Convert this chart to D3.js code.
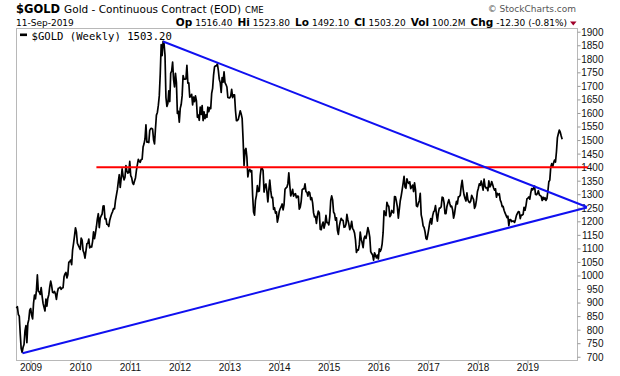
<!DOCTYPE html>
<html><head><meta charset="utf-8">
<script src="https://cdn.jsdelivr.net/npm/d3@7"></script>
<style>body{margin:0;background:#fff}svg{display:block}</style>
</head><body>
<svg id="chart" width="620" height="376"></svg>
<script>
// ---- DATA (weekly closes, first bar Friday 2008-09-19) ----
const firstWeek = "2008-09-19";
const closes2008 = [879,885,856,850,786,730,716,735,745,795,815,752,823,837,872];
const closes2009 = [878,853,840,898,928, 914,944,1002,942, 939,930,955,924, 897,883,869,913, 887,916,929,958,979, 962,938,936,941, 932,912,938,953,954, 957,949,954,955, 995,1006,1011,991, 1003,1049,1051,1057,1040, 1095,1119,1146,1176, 1161,1119,1111,1104];
const closes2010 = [1096,1138,1131,1092,1083, 1064,1090,1117,1119, 1134,1102,1107,1105, 1126,1161,1136,1156,1180, 1209,1228,1177,1212, 1220,1227,1256,1257, 1209,1210,1189,1188,1181, 1204,1217,1228,1236, 1247,1246,1276,1297, 1317,1347,1372,1325,1358, 1394,1367,1353,1363, 1406,1385,1378,1380,1421];
const closes2011 = [1369,1361,1342,1336, 1349,1360,1388,1409, 1429,1421,1418,1428, 1429,1474,1486,1504,1556, 1492,1493,1491,1536, 1542,1543,1540,1501, 1486,1542,1592,1602,1628, 1663,1743,1852,1812, 1864,1856,1814,1657,1624, 1635,1682,1642,1747, 1755,1788,1724,1696, 1746,1712,1598,1606,1566];
const closes2012 = [1617,1631,1664,1738, 1725,1725,1726,1776, 1710,1711,1658,1662,1669, 1630,1659,1642,1663, 1645,1584,1592,1573, 1622,1595,1627,1572,1604, 1579,1593,1584,1622, 1605,1620,1616,1672,1691, 1740,1770,1774,1774, 1781,1757,1724,1712, 1676,1731,1714,1752,1712, 1705,1696,1657,1656];
const closes2013 = [1656,1662,1687,1657, 1667,1667,1609,1572, 1572,1577,1592,1608,1596, 1580,1501,1406,1462, 1469,1436,1364,1386,1392, 1383,1387,1296,1234, 1223,1277,1296,1332, 1310,1312,1370,1396,1396, 1387,1308,1333,1338, 1310,1272,1315,1352, 1315,1287,1288,1244,1250, 1230,1235,1197,1214];
const closes2014 = [1237,1247,1254,1264,1242, 1262,1318,1323,1326, 1339,1379,1334,1294, 1303,1318,1293,1300, 1302,1287,1293,1292,1245, 1252,1274,1316,1320, 1320,1338,1310,1307, 1293,1309,1305,1280,1287, 1268,1231,1216,1218, 1192,1222,1238,1231,1171, 1169,1187,1197,1175, 1190,1222,1195,1195];
const closes2015 = [1187,1217,1277,1294,1279, 1234,1228,1204,1213, 1168,1152,1182,1199, 1211,1205,1203,1178, 1179,1189,1226,1205,1190, 1169,1180,1200,1173, 1168,1157,1131,1085,1095, 1094,1113,1160,1134, 1121,1103,1137,1145, 1137,1156,1177,1163,1142, 1088,1081,1076,1057, 1084,1075,1065,1075];
const closes2016 = [1061,1098,1089,1097,1117, 1158,1239,1227,1221, 1270,1259,1255,1217, 1222,1240,1235,1231,1291, 1290,1273,1252,1212, 1244,1276,1294,1316, 1340,1366,1327,1322,1357, 1344,1340,1346,1321, 1327,1334,1310,1342,1317, 1257,1254,1267,1276, 1303,1224,1208,1183, 1177,1162,1137,1133,1152];
const closes2017 = [1173,1197,1210,1190, 1220,1235,1239,1258, 1226,1201,1230,1249,1249, 1254,1289,1287,1268, 1228,1228,1255,1268, 1280,1266,1254,1256,1242, 1212,1228,1254,1274, 1264,1290,1291,1297, 1330,1351,1320,1297,1284, 1275,1305,1280,1272, 1269,1275,1296,1288, 1280,1248,1257,1278,1309];
const closes2018 = [1322,1338,1333,1349, 1333,1315,1356,1330, 1323,1324,1313,1349,1327, 1332,1347,1336,1323, 1315,1320,1289,1303, 1298,1302,1278,1270,1254, 1255,1241,1231,1223, 1214,1219,1184,1206,1206, 1199,1201,1201,1196, 1207,1222,1229,1236, 1234,1210,1223,1223,1226, 1252,1241,1258,1283];
const closes2019 = [1286,1290,1282,1305, 1321,1316,1323,1330, 1299,1298,1303,1313,1298, 1295,1292,1277,1289, 1281,1287,1277,1284,1311, 1346,1352,1400,1413, 1400,1416,1426,1419, 1457,1509,1523,1537,1529, 1515,1503.2];

const yTickValues = [700,750,800,850,900,950,1000,1050,1100,1150,1200,1250,1300,1350,1400,1450,1500,1550,1600,1650,1700,1750,1800,1850,1900];
const yearLabels = [2009,2010,2011,2012,2013,2014,2015,2016,2017,2018,2019];

const resistanceLine = [{date:"2010-04-30", value:1400},{date:"2020-03-20", value:1400}];
const upperTrend = [{date:"2011-09-02", value:1864},{date:"2020-03-13", value:1253}];
const lowerTrend = [{date:"2008-11-03", value:713},{date:"2020-03-13", value:1251}];

const headerTitle = "$GOLD";
const headerDesc = "Gold - Continuous Contract (EOD)";
const headerExch = "CME";
const headerDate = "11-Sep-2019";
const quote = [["Op","1516.40"],["Hi","1523.80"],["Lo","1492.10"],["Cl","1503.20"],["Vol","100.2M"],["Chg","-12.30 (-0.81%)"]];
const legendText = "$GOLD (Weekly) 1503.20";
const credit = "\u00A9 StockCharts.com";

// ---- BUILD ----
const parse = d3.utcParse("%Y-%m-%d");
const allCloses = [].concat(closes2008,closes2009,closes2010,closes2011,closes2012,closes2013,closes2014,closes2015,closes2016,closes2017,closes2018,closes2019);
const start = parse(firstWeek);
const series = allCloses.map((v,i)=>({date:d3.utcWeek.offset(start,i), value:v}));

const svg = d3.select("#chart");
const L=16, R=577, T=28, B=360;
const x = d3.scaleUtc().domain([parse("2008-09-16"), parse("2019-12-31")]).range([L,R]);
const y = d3.scaleLinear().domain([688,1913.7]).range([B,T]);

// frame
svg.append("rect").attr("x",L+0.5).attr("y",T+0.5).attr("width",R-L).attr("height",B-T)
  .attr("fill","none").attr("stroke","#b8b8b8").attr("stroke-width",1);

// y axis (right)
const ya = svg.append("g").attr("transform",`translate(${R+0.5},0)`)
  .call(d3.axisRight(y).tickValues(yTickValues).tickSize(3).tickFormat(d3.format("d")));
ya.select(".domain").remove();
ya.selectAll(".tick line").attr("stroke","#999");
ya.selectAll(".tick text").attr("x",26).attr("text-anchor","end").attr("dy","0.34em")
  .attr("font-family","Liberation Sans, Arial, sans-serif").attr("font-size",10).attr("fill","#111");

// x axis
const yearDates = yearLabels.map(yv=>parse(yv+"-01-01"));
const xa = svg.append("g").attr("transform",`translate(0,${B+0.5})`)
  .call(d3.axisBottom(x).tickValues(yearDates).tickSize(3).tickFormat(d3.utcFormat("%Y")));
xa.select(".domain").remove();
xa.selectAll(".tick line").attr("stroke","#999");
xa.selectAll(".tick text").attr("y",3).attr("dy","0.71em")
  .attr("font-family","Liberation Sans, Arial, sans-serif").attr("font-size",10).attr("fill","#111");

// price line
const line = d3.line().x(d=>x(d.date)).y(d=>y(d.value));
svg.append("path").datum(series).attr("d",line).attr("fill","none")
  .attr("stroke","#000").attr("stroke-width",1.7).attr("stroke-linejoin","round");

// annotation lines
const tl = d3.line().x(d=>x(parse(d.date))).y(d=>y(d.value));
svg.append("path").datum(resistanceLine).attr("d",tl).attr("stroke","#ff0000").attr("stroke-width",2).attr("fill","none");
svg.append("path").datum(upperTrend).attr("d",tl).attr("stroke","#1010f0").attr("stroke-width",2).attr("fill","none");
svg.append("path").datum(lowerTrend).attr("d",tl).attr("stroke","#1010f0").attr("stroke-width",2).attr("fill","none");

// header
const h1 = svg.append("text").attr("x",16).attr("y",13).attr("font-family","DejaVu Sans, Verdana, sans-serif").attr("fill","#000");
h1.append("tspan").attr("font-weight","bold").attr("font-size",11.5).text(headerTitle);
h1.append("tspan").attr("font-size",10.5).attr("dx",4).text(headerDesc);
h1.append("tspan").attr("font-size",8.5).attr("dx",4).text(headerExch);

svg.append("text").attr("x",16).attr("y",25.5).attr("font-family","DejaVu Sans, Verdana, sans-serif")
  .attr("font-size",9).attr("fill","#000").text(headerDate);

const q = svg.append("text").attr("x",567).attr("y",25.5).attr("text-anchor","end")
  .attr("font-family","DejaVu Sans, Verdana, sans-serif").attr("fill","#000");
quote.forEach((p,i)=>{
  q.append("tspan").attr("font-weight","bold").attr("font-size",10.5).attr("dx", i? 5:0).text(p[0]);
  q.append("tspan").attr("font-size",9).attr("dx",3).text(p[1]);
});
svg.append("path").attr("d","M570,21.5 L576.5,21.5 L573.25,25.5 Z").attr("fill","#a0002a");

svg.append("text").attr("x",576).attr("y",11.5).attr("text-anchor","end")
  .attr("font-family","DejaVu Sans, Verdana, sans-serif").attr("font-size",9).attr("fill","#555").text(credit);

// legend
svg.append("rect").attr("x",20).attr("y",33.5).attr("width",7).attr("height",2.6).attr("fill","#000");
svg.append("text").attr("x",31.5).attr("y",39.5).attr("font-family","DejaVu Sans Mono, monospace")
  .attr("font-size",10.6).attr("fill","#000").text(legendText);
</script>
</body></html>
